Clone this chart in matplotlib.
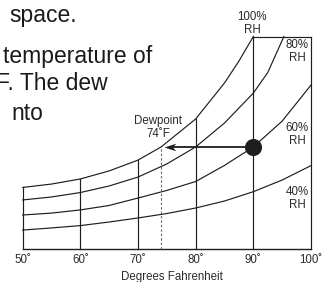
import matplotlib
matplotlib.use("Agg")
import matplotlib.pyplot as plt
from matplotlib.path import Path
import numpy as np

# ---- data ----
rh100_temp = [50, 55, 60, 65, 70, 74, 80, 85, 87.5, 90]
rh100_val = [28.8, 30.4, 32.8, 36.6, 41.7, 47.9, 61.1, 78.1, 88.4, 100]
rh80_temp = [50, 55, 60, 65, 70, 75, 80, 85, 90, 92.5, 95.3]
rh80_val = [22.9, 24.3, 26.4, 29.5, 33.7, 39.9, 47.9, 59.2, 73.3, 83.0, 100]
rh60_temp = [50, 55, 60, 65, 70, 75, 80, 85, 90, 95, 100]
rh60_val = [15.8, 16.7, 18.2, 20.3, 23.8, 27.4, 31.6, 39.2, 47.9, 60.1, 77.1]
rh40_temp = [50, 55, 60, 65, 70, 75, 80, 85, 90, 95, 100]
rh40_val = [8.7, 9.7, 10.8, 12.5, 14.4, 16.5, 19.1, 22.4, 26.8, 32.3, 39.1]

x_ticks = [50, 60, 70, 80, 90, 100]
x_ticklabels = ["50˚", "60˚", "70˚", "80˚", "90˚", "100˚"]
curve_labels = ["100%\nRH", "80%\nRH", "60%\nRH", "40%\nRH"]
state_temp = 90
dewpoint_temp = 74
dewpoint_label = "Dewpoint\n74˚F"
xlabel = "Degrees Fahrenheit"
body_lines = ["space.", "temperature of", "F. The dew", "nto"]

FONT = ["Liberation Sans", "DejaVu Sans"]
plt.rcParams["font.family"] = FONT

W, H = 325, 282
fig = plt.figure(figsize=(W / 100, H / 100), dpi=100)
ax = fig.add_axes([22.7 / W, 1 - 248.5 / H, (311 - 22.7) / W, (248.5 - 36.5) / H])
ax.set_xlim(50, 100)
ax.set_ylim(0, 100)
ax.axis("off")

lc = "#1e1e1e"
lw = 0.85

# curves
for t, v in [(rh100_temp, rh100_val), (rh80_temp, rh80_val),
             (rh60_temp, rh60_val), (rh40_temp, rh40_val)]:
    ax.plot(t, v, color=lc, lw=lw, solid_joinstyle="round", clip_on=False)

# vertical lines up to the 100% curve (or the top)
for xt in x_ticks:
    top = np.interp(xt, rh100_temp, rh100_val) if xt <= rh100_temp[-1] else 100
    ax.plot([xt, xt], [0, top], color=lc, lw=lw, clip_on=False)

# frame: bottom and top segment
ax.plot([50, 100], [0, 0], color=lc, lw=1.0, clip_on=False)
ax.plot([rh100_temp[-1], 100], [100, 100], color=lc, lw=lw, clip_on=False)

# dewpoint dashed line
dew_val = np.interp(state_temp, rh60_temp, rh60_val)
ax.plot([dewpoint_temp, dewpoint_temp], [0, dew_val], color="#666666",
        lw=0.8, dashes=(2.2, 1.8), clip_on=False)

# arrow from the state point to the dewpoint (barbed head)
tip = dewpoint_temp + 0.5
ax.plot([state_temp, tip + 1.0], [dew_val, dew_val], color=lc, lw=1.3,
        solid_capstyle="butt", clip_on=False)
head = Path([(0, 0), (1, 0.32), (0.72, 0), (1, -0.32), (0, 0)],
            [Path.MOVETO, Path.LINETO, Path.LINETO, Path.LINETO, Path.CLOSEPOLY])
ax.plot([tip], [dew_val], marker=head, markersize=17, color=lc,
        markeredgewidth=0, linestyle="none", clip_on=False, zorder=4)
ax.plot([state_temp], [dew_val], "o", color=lc, markersize=11.3, zorder=5,
        clip_on=False)

# labels
small = 8.3
tc = "#2a2a2a"
for xt, lab in zip(x_ticks, x_ticklabels):
    ax.text(xt, -5.3, lab, ha="center", va="center", fontsize=small, color=tc,
            clip_on=False)
fig.text(171.5 / W, 1 - 277 / H, xlabel, ha="center", va="center",
         fontsize=small, color=tc)

label_pos = [(89.8, 106.2), (97.6, 92.8), (97.6, 53.8), (97.6, 23.7)]
for (lx, ly), lab in zip(label_pos, curve_labels):
    ax.text(lx, ly, lab, ha="center", va="center", fontsize=small, color=tc,
            linespacing=1.15, clip_on=False)

ax.text(73.5, 57.1, dewpoint_label, ha="center", va="center", fontsize=small,
        color=tc, linespacing=1.15, clip_on=False)

# body text fragment at top left
body_pos = [(77, 21.7), (152, 63), (108, 90), (43, 120)]
for (bx, by), line in zip(body_pos, body_lines):
    fig.text(bx / W, 1 - by / H, line, ha="right", va="baseline",
             fontsize=16.5, color="#1a1a1a")

fig.savefig("out.png", dpi=100)
